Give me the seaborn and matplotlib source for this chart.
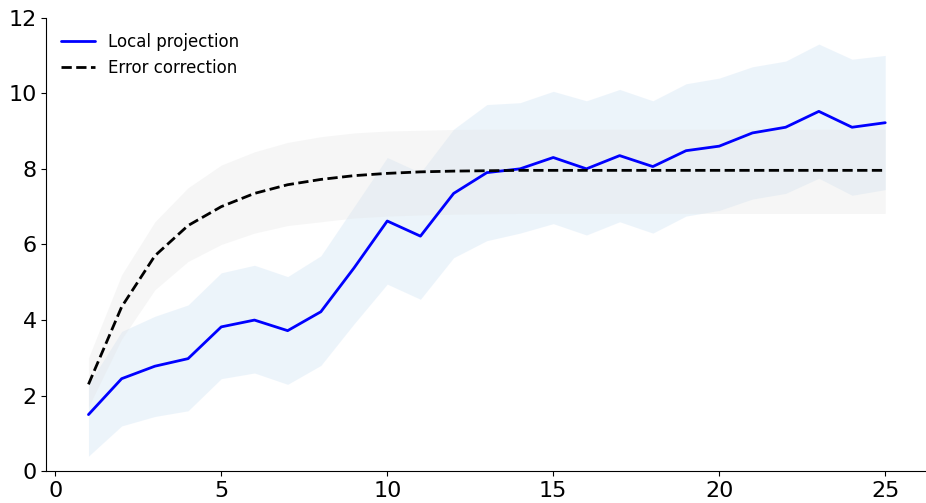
import matplotlib
matplotlib.use("Agg")
import matplotlib.pyplot as plt
import seaborn as sns
import numpy as np

h = list(range(1, 26))
lp = [1.5,2.45,2.78,2.98,3.82,4.0,3.72,4.22,5.38,6.62,6.22,7.35,7.9,8.0,8.3,8.0,8.35,8.06,8.48,8.6,8.95,9.1,9.52,9.1,9.22]
lp_hi = [2.3,3.7,4.1,4.4,5.25,5.45,5.15,5.7,7.0,8.3,7.9,9.05,9.7,9.75,10.05,9.8,10.1,9.8,10.25,10.4,10.7,10.85,11.3,10.9,11.0]
lp_lo = [0.4,1.2,1.45,1.6,2.45,2.6,2.3,2.8,3.9,4.95,4.55,5.65,6.1,6.3,6.55,6.25,6.6,6.3,6.75,6.9,7.2,7.35,7.75,7.3,7.45]
ec = [2.3,4.35,5.7,6.5,7.0,7.35,7.58,7.72,7.82,7.88,7.92,7.94,7.95,7.96,7.96,7.96,7.96,7.96,7.96,7.96,7.96,7.96,7.96,7.96,7.96]
ec_hi = [3.0,5.2,6.6,7.5,8.1,8.45,8.7,8.85,8.95,9.0,9.02,9.04,9.05,9.05,9.05,9.05,9.05,9.05,9.05,9.05,9.05,9.05,9.05,9.05,9.05]
ec_lo = [1.7,3.5,4.8,5.55,6.0,6.3,6.5,6.6,6.7,6.75,6.78,6.8,6.81,6.82,6.82,6.82,6.82,6.82,6.82,6.82,6.82,6.82,6.82,6.82,6.82]

sns.set_style("ticks", {"text.color": "black", "xtick.color": "black", "ytick.color": "black", "axes.edgecolor": "black"})
fig, ax = plt.subplots(figsize=(9.26, 5.03), dpi=100)
fig.subplots_adjust(left=0.05, right=0.999, top=0.965, bottom=0.063)
ax.fill_between(h, lp_lo, lp_hi, color="#dbeaf7", alpha=0.5, linewidth=0)
ax.fill_between(h, ec_lo, ec_hi, color="#e3e3e3", alpha=0.3, linewidth=0)
sns.lineplot(x=h, y=lp, ax=ax, color="blue", lw=2, label="Local projection")
sns.lineplot(x=h, y=ec, ax=ax, color="black", lw=2, ls="--", label="Error correction")
ax.set_xlim(-0.27, 26.2)
ax.set_ylim(0, 12)
ax.set_xticks([0,5,10,15,20,25])
ax.set_yticks([0,2,4,6,8,10,12])
ax.tick_params(labelsize=16, colors="black")
sns.despine(ax=ax)
leg = ax.legend(frameon=False, fontsize=12, loc="upper left")
for t in leg.get_texts():
    t.set_color("black")
fig.savefig("out.png", dpi=100)
